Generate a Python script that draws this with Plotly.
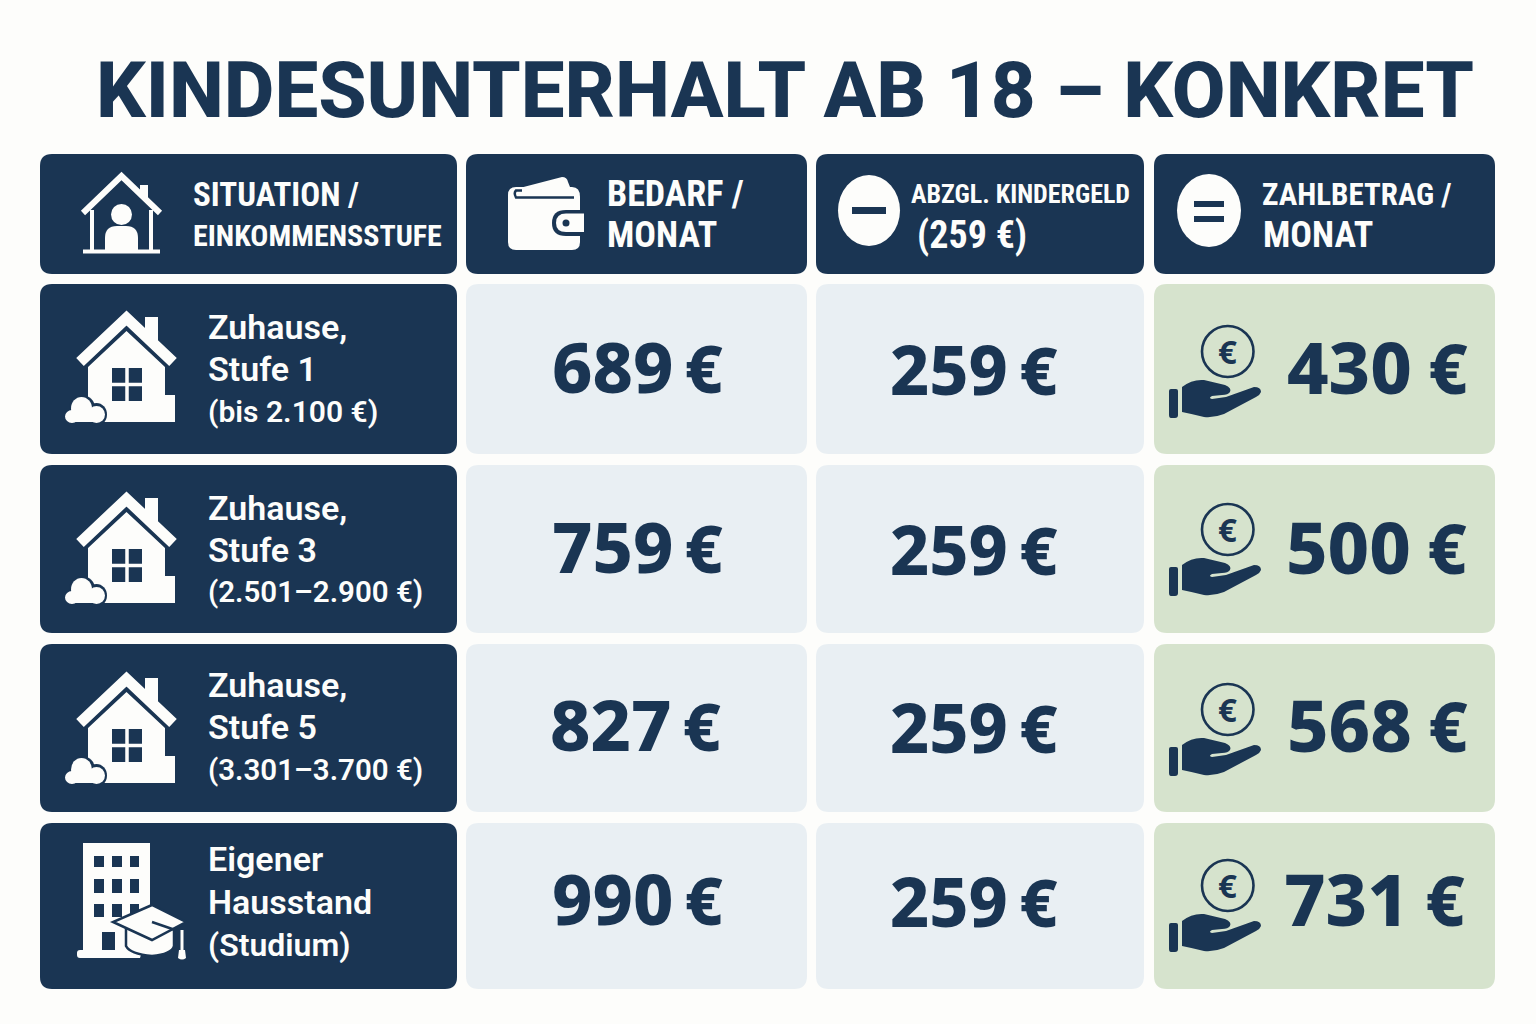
# -*- coding: utf-8 -*-
import plotly.graph_objects as go

# =========================== data ===============================================
title = "KINDESUNTERHALT AB 18 – KONKRET"
header_lines = [["SITUATION /", "EINKOMMENSSTUFE"], ["BEDARF /", "MONAT"],
                ["ABZGL. KINDERGELD", "(259 €)"], ["ZAHLBETRAG /", "MONAT"]]
row_lines = [["Zuhause,", "Stufe 1", "(bis 2.100 €)"],
             ["Zuhause,", "Stufe 3", "(2.501–2.900 €)"],
             ["Zuhause,", "Stufe 5", "(3.301–3.700 €)"],
             ["Eigener", "Hausstand", "(Studium)"]]
bedarf = [689, 759, 827, 990]
kindergeld = [259, 259, 259, 259]
zahlbetrag = [430, 500, 568, 731]

# =========================== layout =============================================
NAVY = "#1a3553"
LIGHT = "#e9eff3"
GREEN = "#d6e3cd"
WHITE = "#fdfdfb"
col_x = [(40, 457), (466, 807), (816, 1144), (1154, 1495)]
head_y = (154, 274)
row_y = [(284, 454), (465, 633), (644, 812), (823, 989)]
head_text_x = [[191, 191], [605, 605], [909, 915], [1260, 1261]]
head_text_y = [194, 235]
head_size = [[33, 30], [36, 36], [26, 38], [31, 36]]
label_y = [[327, 369, 411], [508, 550, 592], [685, 727, 770], [859, 902, 945]]
label3_size = [30, 29.5, 29.5, 32]
bedarf_x = [637, 637, 635, 637]
bedarf_y = [366, 546, 724, 898]
kind_x = [974, 974, 974, 974]
kind_y = [368, 548, 726, 900]
zahl_x = [1377, 1376, 1377, 1374]
zahl_y = [366, 546, 724, 898]
coin_dy = [0, 178, 358, 534]
house_dy = [0, 181, 361]

fig = go.Figure()
shapes = []
notes = []


def add_path(d, fill, line=None, width=0):
    shapes.append(dict(type="path", path=d, fillcolor=fill, layer="above",
                       line=dict(color=line or fill, width=width)))


def add_stroke(d, color, width):
    shapes.append(dict(type="path", path=d, layer="above",
                       line=dict(color=color, width=width)))


def add_oval(x0, y0, x1, y1, fill, line=None, width=0):
    shapes.append(dict(type="circle", x0=x0, y0=y0, x1=x1, y1=y1, fillcolor=fill, layer="above",
                       line=dict(color=line or fill, width=width)))


def round_rect(x0, y0, x1, y1, r, fill):
    d = (f"M{x0+r},{y0} L{x1-r},{y0} Q{x1},{y0} {x1},{y0+r} L{x1},{y1-r} Q{x1},{y1} {x1-r},{y1} "
         f"L{x0+r},{y1} Q{x0},{y1} {x0},{y1-r} L{x0},{y0+r} Q{x0},{y0} {x0+r},{y0} Z")
    add_path(d, fill)


def add_text(x, y, text, size, color, family, weight=700, anchor="left"):
    notes.append(dict(x=x, y=y, text=text, showarrow=False, xanchor=anchor, yanchor="middle",
                      font=dict(family=family, size=size, color=color, weight=weight)))


def money(v, size=66, gap=44):
    return f'{v}<span style="font-size:{gap}px"> </span><span style="font-size:{size}px">€</span>'


def narrow(text, pct=75):
    return f'<span style="font-stretch:{pct}%">{text}</span>'


# ---- icons ----
def house_icon(dy):
    # body, chimney, annex
    add_path(f"M88,{367+dy} L126.5,{331+dy} L165,{367+dy} L165,{395+dy} L175,{395+dy} L175,{422+dy} L88,{422+dy} Z", WHITE)
    add_path(f"M145,{317+dy} L158,{317+dy} L158,{345+dy} L145,{332+dy} Z", WHITE)
    add_stroke(f"M80,{362+dy} L126.5,{318+dy} L173,{362+dy}", WHITE, 11)
    # window
    add_path(f"M112,{368+dy} L142,{368+dy} L142,{401+dy} L112,{401+dy} Z", NAVY)
    add_stroke(f"M127,{368+dy} L127,{401+dy} M112,{384.5+dy} L142,{384.5+dy}", WHITE, 3.5)
    # cloud, thin navy edge where it sits on the house
    add_oval(86, 403+dy, 107, 426+dy, NAVY)
    add_oval(69, 395+dy, 95, 421+dy, NAVY)
    add_oval(71, 397+dy, 92, 420+dy, WHITE)
    add_oval(88, 406+dy, 105, 423+dy, WHITE)
    add_oval(65, 410+dy, 79, 423+dy, WHITE)
    add_path(f"M72,{412+dy} L98,{412+dy} L98,{422+dy} L72,{422+dy} Z", WHITE)


def header_house():
    add_path("M140,185 L148,185 L148,200 L140,192 Z", WHITE)
    add_stroke("M83,213 L121.5,176 L160,213", WHITE, 6)
    add_stroke("M92,210 L92,251 M151,210 L151,251", WHITE, 4)
    add_stroke("M83,251.5 L160,251.5", WHITE, 4)
    add_oval(111, 204, 132, 225, WHITE)
    add_path("M105,250 L105,238 Q105,226 117,226 L126,226 Q138,226 138,238 L138,250 Z", WHITE)


def wallet():
    add_path("M512,190 L562,177 Q567,177 568,182 L572,192 L512,192 Z", WHITE)
    add_path("M516,187 L572,187 Q580,187 580,197 L580,242 Q580,250 572,250 L516,250 "
             "Q508,250 508,242 L508,195 Q508,187 516,187 Z", WHITE)
    add_stroke("M522,190.5 L516,190.5 Q513.5,193 516,197.5 L574,197.5", NAVY, 2.5)
    add_path("M566,210 L580,210 L580,236 L566,236 Q552,236 552,223 Q552,210 566,210 Z", NAVY)
    add_path("M566,213.5 L584,213.5 L584,232 L566,232 Q556,232 556,223 Q556,213.5 566,213.5 Z", WHITE)
    add_oval(562.5, 219.5, 569.5, 226.5, NAVY)


def coin_hand(dy):
    add_oval(1202, 326+dy, 1253.5, 377+dy, "rgba(0,0,0,0)", NAVY, 2.6)
    add_text(1227.5, 351+dy, "€", 33, NAVY, "Noto Sans", anchor="center")
    add_path(f"M1169,{391+dy} Q1169,{389+dy} 1171,{389+dy} L1176,{389+dy} Q1178,{389+dy} 1178,{391+dy} "
             f"L1178,{415+dy} Q1178,{418+dy} 1175,{418+dy} L1171,{418+dy} Q1169,{418+dy} 1169,{415+dy} Z", NAVY)
    add_path(f"M1182,{387+dy} Q1192,{379+dy} 1204,{380+dy} L1225,{385+dy} Q1232,{388+dy} 1230,{392+dy} "
             f"Q1228,{395+dy} 1222,{395+dy} L1212,{396+dy} Q1208,{398+dy} 1212,{399+dy} L1226,{397+dy} "
             f"L1254,{387+dy} Q1261,{387+dy} 1261,{392+dy} Q1260,{395+dy} 1256,{397+dy} "
             f"L1224,{414+dy} Q1214,{418+dy} 1204,{417+dy} Q1192,{414+dy} 1182,{412+dy} Z", NAVY)


def building_icon():
    add_path("M83,843 L150,843 L150,925 L140,958 L80,958 Q77,958 77,955 L77,953 Q77,950 80,950 L83,950 Z", WHITE)
    for wx in [(94, 104), (112, 122), (130, 139)]:
        for wy in [(856, 867), (879, 893), (904, 917)]:
            add_path(f"M{wx[0]},{wy[0]} L{wx[1]},{wy[0]} L{wx[1]},{wy[1]} L{wx[0]},{wy[1]} Z", NAVY)
    add_path("M102,932 L115,932 L115,950 L102,950 Z", NAVY)
    # doctor cap
    add_path("M126,928 L126,946 Q130,954 152,956 Q172,954 174,946 L174,928 Z", WHITE, NAVY, 2.5)
    add_path("M152,905 L186,922 L152,940 L113,922 Z", WHITE, NAVY, 2.5)
    add_stroke("M152,922 L181,932", NAVY, 2.5)
    add_stroke("M182,930 L182,950", WHITE, 3)
    add_path("M179,950 L185,950 L186,958 Q182,961 178,958 Z", WHITE)


# ---- cells ----
for x0, x1 in col_x:
    round_rect(x0, head_y[0], x1, head_y[1], 12, NAVY)
for y0, y1 in row_y:
    round_rect(col_x[0][0], y0, col_x[0][1], y1, 12, NAVY)
    round_rect(col_x[1][0], y0, col_x[1][1], y1, 13, LIGHT)
    round_rect(col_x[2][0], y0, col_x[2][1], y1, 13, LIGHT)
    round_rect(col_x[3][0], y0, col_x[3][1], y1, 13, GREEN)

# ---- header icons ----
header_house()
wallet()
add_oval(838, 175, 900, 246, WHITE)
add_path("M852,207 L886,207 L886,214 L852,214 Z", NAVY)
add_oval(1177, 174, 1241, 247, WHITE)
add_path("M1194,201 L1224,201 L1224,207 L1194,207 Z", NAVY)
add_path("M1194,216 L1224,216 L1224,222 L1194,222 Z", NAVY)

for dy in house_dy:
    house_icon(dy)
building_icon()
for dy in coin_dy:
    coin_hand(dy)

# ---- texts ----
add_text(785, 90, title, 78, NAVY, "Roboto", 800, anchor="center")
for c, lines in enumerate(header_lines):
    for k, line in enumerate(lines):
        add_text(head_text_x[c][k], head_text_y[k], narrow(line), head_size[c][k], WHITE, "Roboto")
for r, lines in enumerate(row_lines):
    for k, line in enumerate(lines):
        add_text(206, label_y[r][k], line, 34 if k < 2 else label3_size[r], WHITE, "Roboto", 600)
    add_text(bedarf_x[r], bedarf_y[r], money(bedarf[r]), 70, NAVY, "Noto Sans", 800, anchor="center")
    add_text(kind_x[r], kind_y[r], money(kindergeld[r]), 68, NAVY, "Noto Sans", 800, anchor="center")
    add_text(zahl_x[r], zahl_y[r], money(zahlbetrag[r], 68, 64), 72, NAVY, "Noto Sans", 800, anchor="center")

fig.update_layout(width=1536, height=1024, margin=dict(l=0, r=0, t=0, b=0), autosize=False,
                  paper_bgcolor=WHITE, plot_bgcolor=WHITE, showlegend=False, hovermode=False,
                  shapes=shapes, annotations=notes,
                  xaxis=dict(range=[0, 1536], visible=False, fixedrange=True),
                  yaxis=dict(range=[1024, 0], visible=False, fixedrange=True))
fig.write_html("out.html", config={"displayModeBar": False},
               post_script="document.body.style.margin='0';document.body.style.overflow='hidden';")
